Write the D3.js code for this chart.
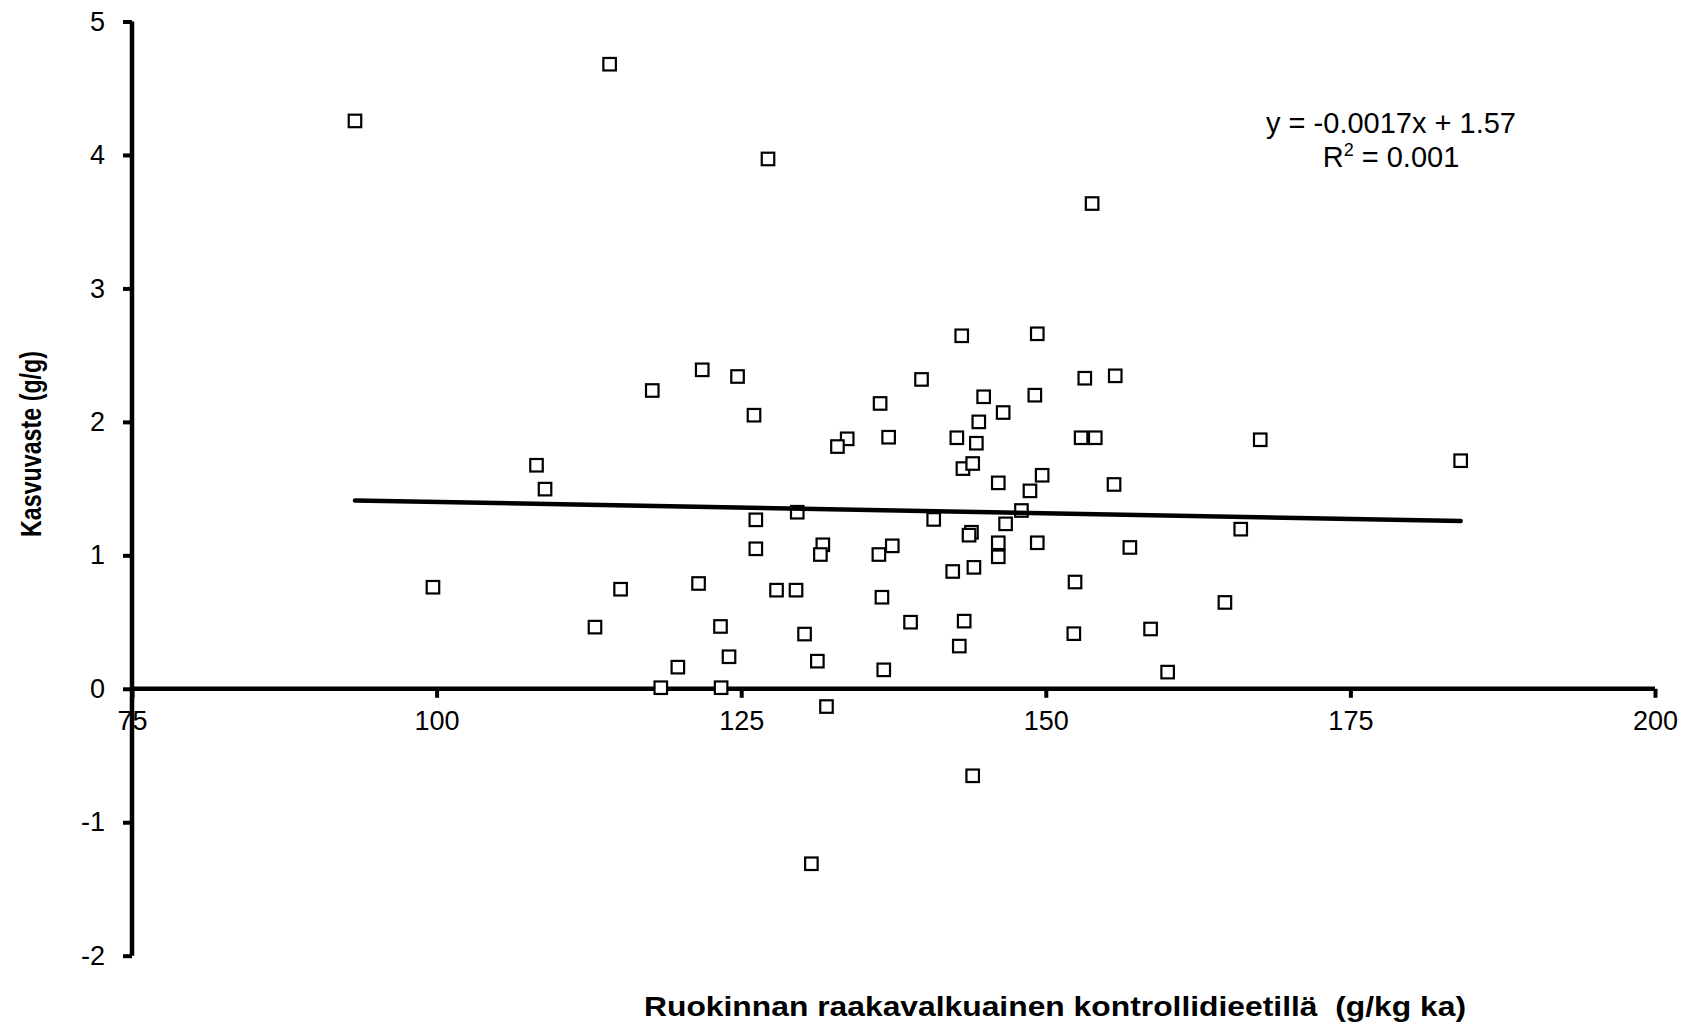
<!DOCTYPE html>
<html>
<head>
<meta charset="utf-8">
<script src="https://cdn.jsdelivr.net/npm/d3@7"></script>
<style>
  html, body { margin: 0; padding: 0; background: #fff; }
  svg { display: block; }
  text { font-family: "Liberation Sans", Arial, sans-serif; fill: #000; }
</style>
</head>
<body>
<svg id="chart" width="1694" height="1027"></svg>
<script>
// ---- Data ----
const xValues = [93.3, 114.2, 127.2, 153.8, 184.05, 117.7, 121.8, 124.7, 126.05, 108.2,
  108.9, 126.2, 129.6, 126.2, 99.7, 115.1, 121.5, 127.9, 129.5, 113.0,
  123.3, 130.2, 124.0, 119.8, 118.4, 123.35, 136.55, 131.25, 136.7, 132.0,
  130.76, 142.36, 144.1, 146.1, 152.4, 164.7, 138.9, 143.3, 142.9, 152.3,
  158.6, 160.0, 144.0, 143.1, 149.3, 139.8, 153.2, 155.7, 136.4, 144.9,
  149.1, 146.5, 144.5, 133.7, 132.9, 137.1, 142.7, 144.3, 152.9, 154.06,
  167.6, 143.2, 144.0, 146.1, 149.7, 148.7, 155.6, 148.0, 140.8, 146.7,
  143.9, 143.7, 166.0, 131.7, 131.5, 137.4, 136.3, 146.1, 149.3, 156.9];
const yValues = [4.255, 4.68, 3.97, 3.636, 1.709, 2.235, 2.39, 2.34, 2.05, 1.675,
  1.496, 1.266, 1.323, 1.049, 0.761, 0.746, 0.789, 0.739, 0.739, 0.462,
  0.467, 0.41, 0.24, 0.162, 0.008, 0.008, 0.686, 0.207, 0.142, -0.133,
  -1.311, 0.879, 0.91, 0.989, 0.80, 0.647, 0.499, 0.507, 0.32, 0.413,
  0.448, 0.125, -0.652, 2.645, 2.66, 2.318, 2.327, 2.345, 2.138, 2.188,
  2.2, 2.07, 2.0, 1.873, 1.815, 1.885, 1.881, 1.84, 1.881, 1.881,
  1.866, 1.65, 1.688, 1.543, 1.6, 1.483, 1.531, 1.336, 1.269, 1.236,
  1.173, 1.151, 1.196, 1.079, 1.006, 1.071, 1.006, 1.094, 1.094, 1.059];
const xTicks = [75, 100, 125, 150, 175, 200];
const yTicks = [-2, -1, 0, 1, 2, 3, 4, 5];
const trendSlope = -0.0017;
const trendIntercept = 1.57;
const equationText = "y = -0.0017x + 1.57";
const r2Value = "0.001";
const xTitle = "Ruokinnan raakavalkuainen kontrollidieetillä  (g/kg ka)";
const yTitle = "Kasvuvaste (g/g)";

// ---- Layout ----
const svg = d3.select("#chart");
const x = d3.scaleLinear().domain([75, 200]).range([132, 1655]);
const y = d3.scaleLinear().domain([-2, 5]).range([955.7, 21.5]);
const AXIS_W = 4.5;
const fmt = d => String(d);

// Y axis
const yAxis = d3.axisLeft(y).tickValues(yTicks).tickSize(9).tickPadding(8).tickFormat(fmt);
const gy = svg.append("g").attr("transform", `translate(${x(75)},0)`).call(yAxis);
gy.select(".domain").attr("stroke", "#000").attr("stroke-width", AXIS_W).attr("d", `M0,${y(-2)}V${y(5)}`);
gy.selectAll(".tick line").attr("stroke", "#000").attr("stroke-width", 4);
gy.selectAll(".tick text").attr("font-size", 27).attr("font-family", "Liberation Sans, Arial, sans-serif").attr("x", -27);

// X axis at y = 0
const xAxis = d3.axisBottom(x).tickValues(xTicks).tickSize(9).tickPadding(13).tickFormat(fmt);
const gx = svg.append("g").attr("transform", `translate(0,${y(0)})`).call(xAxis);
gx.select(".domain").attr("stroke", "#000").attr("stroke-width", AXIS_W).attr("d", `M${x(75)},0H${x(200)}`);
gx.selectAll(".tick line").attr("stroke", "#000").attr("stroke-width", 4);
gx.selectAll(".tick text").attr("font-size", 27).attr("font-family", "Liberation Sans, Arial, sans-serif");

// Points
const pts = d3.range(xValues.length).map(i => ({x: xValues[i], y: yValues[i]}));
const S = 12.5;
svg.append("g").selectAll("rect").data(pts).join("rect")
  .attr("x", d => x(d.x) - S / 2)
  .attr("y", d => y(d.y) - S / 2)
  .attr("width", S).attr("height", S)
  .attr("fill", "#fff").attr("stroke", "#000").attr("stroke-width", 2.2);

// Trend line
const tx = d3.extent(xValues);
const line = d3.line().x(d => x(d)).y(d => y(trendSlope * d + trendIntercept));
svg.append("path").datum(tx).attr("d", line)
  .attr("fill", "none").attr("stroke", "#000").attr("stroke-width", 4.5).attr("stroke-linecap", "round");

// Equation
const eq = svg.append("g").attr("font-size", 29);
eq.append("text").attr("x", 1391).attr("y", 133).attr("text-anchor", "middle").text(equationText);
const r2 = eq.append("text").attr("x", 1391).attr("y", 167).attr("text-anchor", "middle");
r2.append("tspan").text("R");
r2.append("tspan").attr("font-size", 18).attr("dy", -11).text("2");
r2.append("tspan").attr("dy", 11).text(" = " + r2Value);

// Axis titles
svg.append("text").attr("x", 1055).attr("y", 1016).attr("text-anchor", "middle")
  .attr("font-size", 28).attr("font-weight", "bold").style("white-space", "pre")
  .attr("textLength", 822).attr("lengthAdjust", "spacingAndGlyphs").text(xTitle);
svg.append("text").attr("transform", "translate(41,444) rotate(-90)").attr("text-anchor", "middle")
  .attr("font-size", 30).attr("font-weight", "bold")
  .attr("textLength", 186).attr("lengthAdjust", "spacingAndGlyphs").text(yTitle);
</script>
</body>
</html>
